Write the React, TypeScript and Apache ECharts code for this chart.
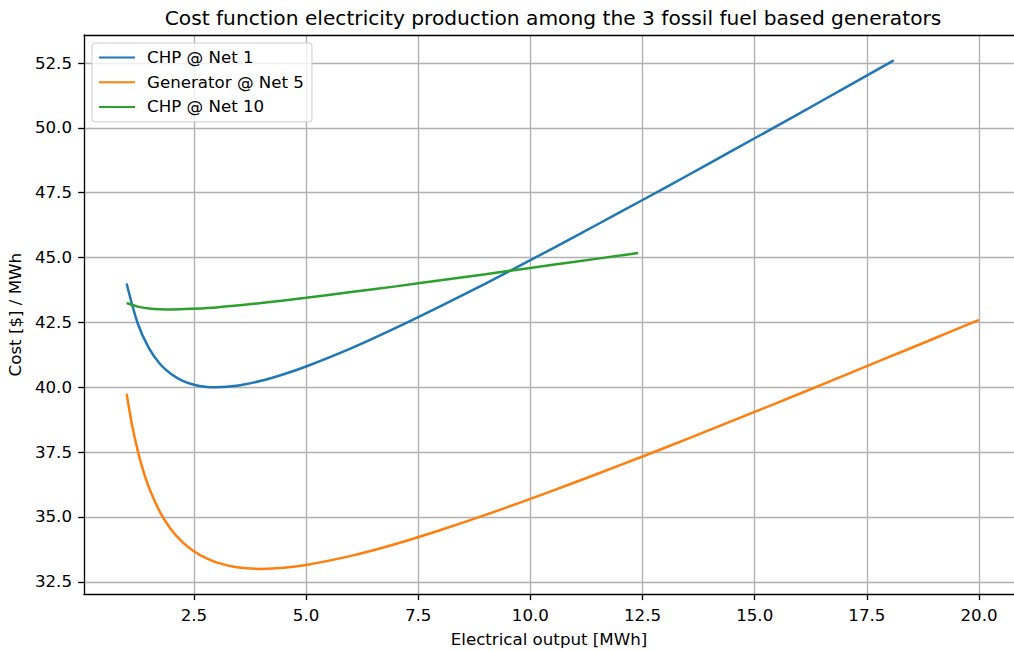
import React, { useEffect, useRef } from "react";
import * as echarts from "echarts";

const chp1X = [1, 1.25, 1.5, 1.75, 2, 2.25, 2.5, 2.75, 3, 3.5, 4, 4.5, 5, 6, 7, 8, 9, 10, 11, 12, 13, 14, 15, 16, 17, 18.1];
const chp1Y = [44.0, 42.45, 41.5, 40.89, 40.5, 40.25, 40.1, 40.02, 40.0, 40.07, 40.25, 40.5, 40.8, 41.5, 42.29, 43.13, 44.0, 44.9, 45.82, 46.75, 47.69, 48.64, 49.6, 50.56, 51.53, 52.6];

const gen5X = [1, 1.125, 1.25, 1.375, 1.5, 1.75, 2, 2.25, 2.5, 2.75, 3, 3.5, 4, 4.5, 5, 6, 7, 8, 9, 10, 11, 12, 13, 14, 15, 16, 17, 18, 19, 20];
const gen5Y = [39.75, 38.51, 37.54, 36.76, 36.13, 35.17, 34.5, 34.02, 33.68, 33.43, 33.25, 33.05, 33.0, 33.04, 33.15, 33.5, 33.96, 34.5, 35.08, 35.7, 36.34, 37.0, 37.67, 38.36, 39.05, 39.75, 40.46, 41.17, 41.88, 42.6];

const chp10X = [1, 1.25, 1.5, 1.75, 2, 2.5, 3, 4, 5, 6, 7, 8, 9, 10, 11, 12, 12.4];
const chp10Y = [43.25, 43.11, 43.04, 43.01, 43.0, 43.03, 43.08, 43.25, 43.45, 43.67, 43.89, 44.13, 44.36, 44.6, 44.84, 45.08, 45.18];

const xTicks = [2.5, 5, 7.5, 10, 12.5, 15, 17.5, 20];
const yTicks = [32.5, 35, 37.5, 40, 42.5, 45, 47.5, 50, 52.5];

const seriesNames = ["CHP @ Net 1", "Generator @ Net 5", "CHP @ Net 10"];
const colors = ["#1f77b4", "#ff7f0e", "#2ca02c"];

const FONT = "DejaVu Sans";
const FS = 16.67;

function pairs(xs: number[], ys: number[]) {
  return xs.map((x, i) => [x, ys[i]]);
}

export default function App() {
  const ref = useRef<HTMLDivElement>(null);
  useEffect(() => {
    document.body.style.margin = "0";
    if (!ref.current) return;
    const chart = echarts.init(ref.current, null, { renderer: "svg" });
    const lineW = 1.33;
    const axisLine = { show: true, lineStyle: { color: "#000", width: lineW } };
    const tick = { show: true, length: 5.8, lineStyle: { color: "#000", width: lineW } };
    const split = { show: true, lineStyle: { color: "#b0b0b0", width: lineW } };
    const nameStyle = { fontFamily: FONT, fontSize: FS, color: "#000" };
    const XMIN = 0.05;
    const XMAX = 20.78;
    chart.setOption({
      animation: false,
      color: colors,
      title: {
        text: "Cost function electricity production among the 3 fossil fuel based generators",
        left: 548,
        top: 3,
        textAlign: "center",
        textStyle: { fontFamily: FONT, fontSize: 20.2, fontWeight: "normal", color: "#000" },
      },
      grid: {
        left: 84,
        top: 35,
        right: 0,
        height: 559.3,
        show: false,
        containLabel: false,
        outerBoundsMode: "none",
      },
      legend: {
        orient: "vertical",
        left: 92,
        top: 43,
        padding: [5, 8, 5.5, 6],
        itemWidth: 36,
        itemHeight: 14,
        itemGap: 5.7,
        backgroundColor: "rgba(255,255,255,0.8)",
        borderColor: "#cccccc",
        borderWidth: 1,
        borderRadius: 3,
        itemStyle: { opacity: 0 },
        textStyle: { fontFamily: FONT, fontSize: FS, color: "#000", lineHeight: 19, padding: [0, 0, 0, 7] },
        data: seriesNames,
      },
      xAxis: [
        {
          type: "value",
          min: XMIN,
          max: XMAX,
          name: "Electrical output [MWh]",
          nameLocation: "middle",
          nameGap: 37,
          nameTextStyle: nameStyle,
          axisLine,
          axisTick: { ...tick, customValues: xTicks },
          splitLine: split,
          axisLabel: {
            customValues: xTicks,
            fontFamily: FONT,
            fontSize: FS,
            color: "#000",
            margin: 13,
            formatter: (v: number) => v.toFixed(1),
          },
        },
        {
          type: "value",
          position: "top",
          min: XMIN,
          max: XMAX,
          axisLine,
          axisTick: { show: false },
          axisLabel: { show: false },
          splitLine: { show: false },
        },
      ],
      yAxis: {
        type: "value",
        min: 32.02,
        max: 53.58,
        name: "Cost [$] / MWh",
        nameLocation: "middle",
        nameGap: 57,
        nameTextStyle: nameStyle,
        axisLine,
        axisTick: { ...tick, customValues: yTicks },
        splitLine: split,
        axisLabel: {
          customValues: yTicks,
          fontFamily: FONT,
          fontSize: FS,
          color: "#000",
          margin: 12,
          formatter: (v: number) => v.toFixed(1),
        },
      },
      series: [
        { name: seriesNames[0], type: "line", data: pairs(chp1X, chp1Y), smooth: 0.3, symbol: "none", lineStyle: { width: 2.5 } },
        { name: seriesNames[1], type: "line", data: pairs(gen5X, gen5Y), smooth: 0.3, symbol: "none", lineStyle: { width: 2.5 } },
        { name: seriesNames[2], type: "line", data: pairs(chp10X, chp10Y), smooth: 0.3, symbol: "none", lineStyle: { width: 2.5 } },
      ],
    });
    return () => chart.dispose();
  }, []);
  return <div ref={ref} style={{ width: 1014, height: 650 }} />;
}
